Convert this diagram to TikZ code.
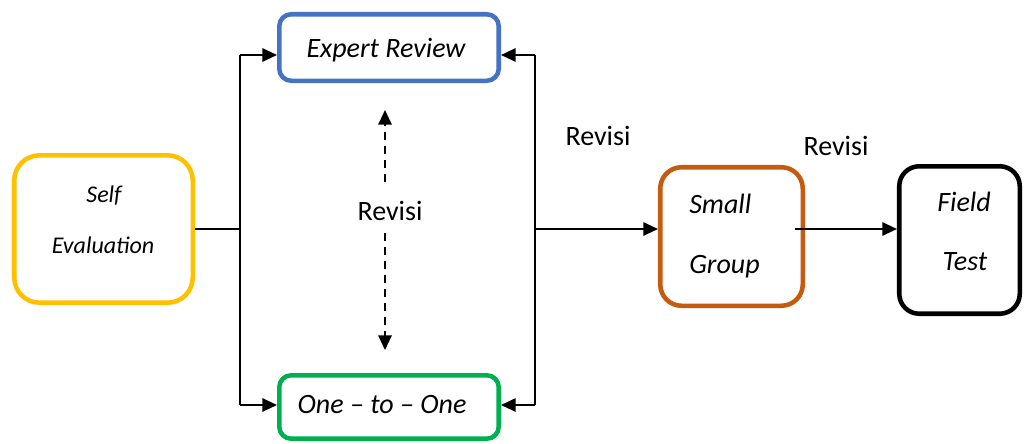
\documentclass[tikz,border=0pt]{standalone}
\usepackage{fontspec}
\setmainfont{Carlito}
\usetikzlibrary{arrows.meta,calc}
\definecolor{cyellow}{HTML}{FFC000}
\definecolor{cblue}{HTML}{4472C4}
\definecolor{cgreen}{HTML}{00B050}
\definecolor{corange}{HTML}{C55A11}
\begin{document}
\begin{tikzpicture}[x=0.75pt,y=-0.75pt,
  box/.style={draw,line width=3.4pt,inner sep=0pt,fill=white},
  lbl/.style={font=\fontsize{21}{25}\selectfont\itshape,inner sep=0pt,anchor=base},
  slbl/.style={font=\fontsize{18}{22}\selectfont\itshape,inner sep=0pt,anchor=base},
  rev/.style={font=\fontsize{21}{25}\selectfont,inner sep=0pt,anchor=base},
  conn/.style={line width=1.5pt},
  arr/.style={line width=1.5pt,-{Triangle[length=11pt,width=10pt]}},
  darr/.style={line width=1.5pt,dash pattern=on 6pt off 4.5pt,-{Triangle[length=11pt,width=10pt]}}
]
\useasboundingbox (0,0) rectangle (1024,443);

% boxes
\node[box,draw=cyellow,rounded corners=19pt,minimum width=133.9pt,minimum height=110.6pt] (self) at (103.5,229) {};
\node[box,draw=cblue,rounded corners=9pt,minimum width=164.6pt,minimum height=49.9pt] (expert) at (389,47.5) {};
\node[box,draw=cgreen,rounded corners=9pt,minimum width=164.6pt,minimum height=47.6pt] (one) at (389,407) {};
\node[box,draw=corange,rounded corners=16pt,minimum width=106.9pt,minimum height=103.9pt] (small) at (731.5,236.5) {};
\node[box,draw=black,rounded corners=15pt,minimum width=90.4pt,minimum height=110.6pt] (field) at (959.5,240) {};

% texts
\node[slbl] (tself) at (104,202) {Self};
\node[slbl] (teval) at (103,253) {Evaluation};
\node[lbl] (texpert) at (386,57) {Expert Review};
\node[lbl] (tone) at (382,413) {One -- to -- One};
\node[lbl,anchor=base west] (tsmall) at (689,213) {Small};
\node[lbl,anchor=base west] (tgroup) at (689,273) {Group};
\node[lbl] (tfield) at (964,211) {Field};
\node[lbl] (ttest) at (965,270) {Test};
\node[rev] (rev1) at (390,220) {Revisi};
\node[rev] (rev2) at (598,145) {Revisi};
\node[rev] (rev3) at (836,155) {Revisi};

% coordinates
\coordinate (ls) at (240,229);
\coordinate (lt) at (240,55);
\coordinate (lb) at (240,405);
\coordinate (rs) at (535,229);
\coordinate (rt) at (535,55);
\coordinate (rb) at (535,405);
\coordinate (so) at (795,229);
\coordinate (d1) at (385,182);
\coordinate (d2) at (385,110);
\coordinate (d3) at (385,233);
\coordinate (d4) at (385,350);

% connectors
\draw[conn] (self.east |- ls) -- (ls);
\draw[conn] (lt) -- (lb);
\draw[arr] (lt) -- (expert.west |- lt);
\draw[arr] (lb) -- (one.west |- lb);
\draw[conn] (rt) -- (rb);
\draw[arr] (rt) -- (expert.east |- rt);
\draw[arr] (rb) -- (one.east |- rb);
\draw[arr] (rs) -- (small.west |- rs);
\draw[arr] (so) -- (field.west |- so);
\draw[darr] (d1) -- (d2);
\draw[darr] (d3) -- (d4);
\end{tikzpicture}
\end{document}
